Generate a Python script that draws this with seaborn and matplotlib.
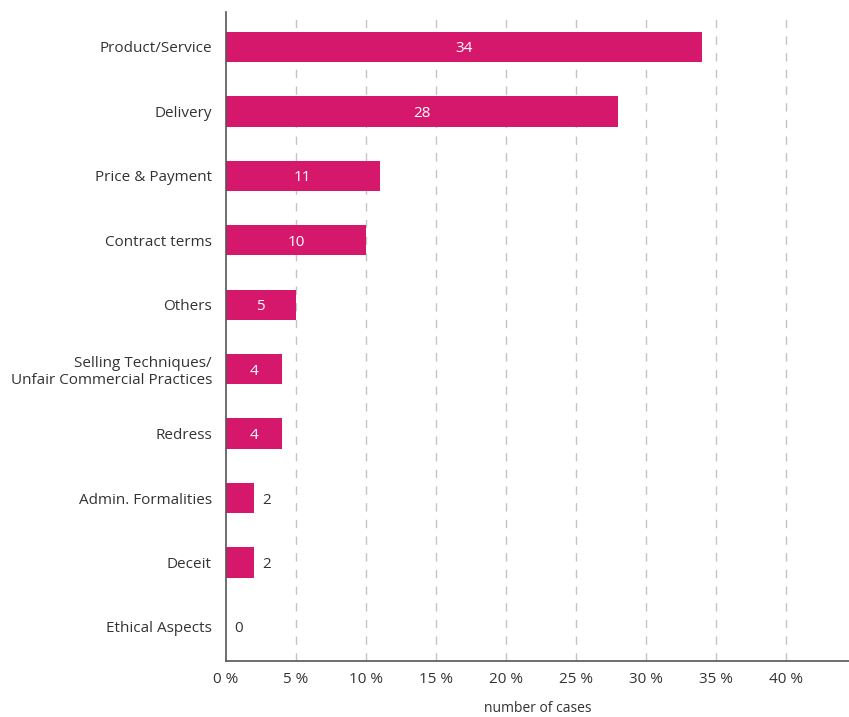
import seaborn as sns
import matplotlib.pyplot as plt
import pandas as pd

categories = ['Product/Service', 'Delivery', 'Price & Payment', 'Contract terms', 'Others',
              'Selling Techniques/\nUnfair Commercial Practices', 'Redress',
              'Admin. Formalities', 'Deceit', 'Ethical Aspects']
cases = [34, 28, 11, 10, 5, 4, 4, 2, 2, 0]
ticks = [0, 5, 10, 15, 20, 25, 30, 35, 40]

sns.set_style('white')
plt.rcParams['font.family'] = ['Open Sans', 'DejaVu Sans']
plt.rcParams['font.size'] = 11

df = pd.DataFrame({'category': categories, 'cases': cases})

fig = plt.figure(figsize=(8.49, 7.17), dpi=100)
ax = fig.add_axes([0.266, 0.078, 0.734, 0.905])
sns.barplot(data=df, x='cases', y='category', color='#d5186c', width=0.47,
            saturation=1, linewidth=0, ax=ax)

ax.set_xlim(0, 44.5)
ax.set_ylim(9.53, -0.54)
ax.set_xticks(ticks)
ax.set_xticklabels([f'{t} %' for t in ticks], fontsize=11, color='#333333')
ax.tick_params(axis='y', labelsize=11, labelcolor='#333333', length=0, pad=10)
ax.tick_params(axis='x', length=0, pad=8)
for t in ticks[1:]:
    ax.axvline(t, color='#c4c4c4', lw=1, ls=(0, (6, 6)), zorder=0)

for i, v in enumerate(cases):
    if v >= 4:
        ax.text(v / 2, i, str(v), ha='center', va='center_baseline', color='white', fontsize=11)
    else:
        ax.text(v + 0.6, i, str(v), ha='left', va='center_baseline', color='#333333', fontsize=11)

ax.set_ylabel('')
ax.set_xlabel('number of cases', fontsize=10, color='#333333', labelpad=10)
for s in ['top', 'right']:
    ax.spines[s].set_visible(False)
ax.spines['left'].set_color('#555555')
ax.spines['bottom'].set_color('#555555')
ax.spines['left'].set_linewidth(1.2)
ax.spines['bottom'].set_linewidth(1.2)

fig.savefig('out.png', dpi=100)
